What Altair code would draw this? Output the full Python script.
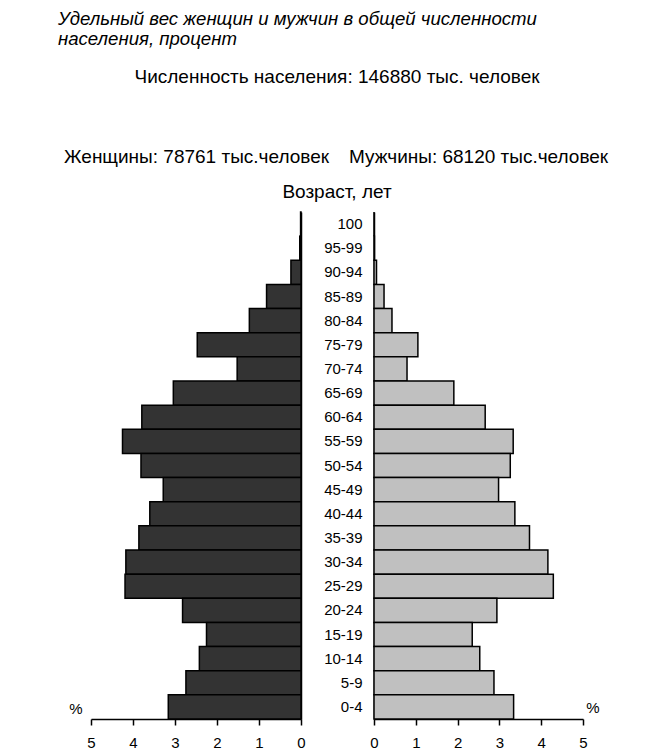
import altair as alt
import pandas as pd

# ---- data ----
ages = ["100", "95-99", "90-94", "85-89", "80-84", "75-79", "70-74", "65-69",
        "60-64", "55-59", "50-54", "45-49", "40-44", "35-39", "30-34", "25-29",
        "20-24", "15-19", "10-14", "5-9", "0-4"]
women = [0.01, 0.03, 0.24, 0.82, 1.23, 2.47, 1.52, 3.04, 3.79, 4.25, 3.81,
         3.28, 3.60, 3.86, 4.17, 4.19, 2.82, 2.25, 2.42, 2.74, 3.16]
men = [0.0, 0.01, 0.06, 0.24, 0.43, 1.05, 0.79, 1.91, 2.66, 3.33, 3.26,
       2.98, 3.37, 3.72, 4.16, 4.29, 2.94, 2.35, 2.53, 2.87, 3.34]
tick_values = [0, 1, 2, 3, 4, 5]

title_line1 = "Удельный вес женщин и мужчин в общей численности"
title_line2 = "населения, процент"
total_text = "Численность населения: 146880 тыс. человек"
women_text = "Женщины: 78761 тыс.человек"
men_text = "Мужчины: 68120 тыс.человек"
age_title = "Возраст, лет"
pct = "%"

FONT = "Liberation Sans"
W, H = 210, 507

df = pd.DataFrame({"age": ages, "women": women, "men": men})


def txt(s, x, y, size=19, align="left", baseline="middle", italic=False):
    return alt.Chart(pd.DataFrame({"t": [s]})).mark_text(
        align=align, baseline=baseline, fontSize=size, font=FONT,
        fontStyle="italic" if italic else "normal", color="black"
    ).encode(text="t:N", x=alt.value(x), y=alt.value(y))


xaxis = dict(values=tick_values, format="d", title=None, grid=False,
             tickSize=6, labelPadding=10, labelFontSize=15, labelFlush=False)

left_bars = alt.Chart(df).mark_bar(
    color="#333333", stroke="black", strokeWidth=1.5
).encode(
    x=alt.X("women:Q", scale=alt.Scale(domain=[0, 5], reverse=True),
            axis=alt.Axis(**xaxis)),
    y=alt.Y("age:N", sort=ages,
            scale=alt.Scale(paddingInner=0, paddingOuter=0),
            axis=alt.Axis(orient="right", labels=False, ticks=False,
                          title=None, grid=False)),
)

# invisible anchor at the page's top-left corner (page margin)
anchor = alt.Chart(pd.DataFrame({"a": [0]})).mark_rule(opacity=0).encode(
    x=alt.value(-83), x2=alt.value(-82), y=alt.value(-204)
)

left = alt.layer(
    anchor,
    left_bars,
    txt(title_line1, -33, -187, size=18.6, baseline="alphabetic", italic=True),
    txt(title_line2, -33, -167, size=18.6, baseline="alphabetic", italic=True),
    txt(total_text, 246, -135, align="center"),
    txt(women_text, -27, -55),
    txt(men_text, 258, -55),
    txt(age_title, 246, -20, align="center"),
    txt(pct, -15, 497, size=15, align="center"),
).properties(width=W, height=H)

right_bars = alt.Chart(df).mark_bar(
    color="#c0c0c0", stroke="black", strokeWidth=1.5
).encode(
    x=alt.X("men:Q", scale=alt.Scale(domain=[0, 5]), axis=alt.Axis(**xaxis)),
    y=alt.Y("age:N", sort=ages,
            scale=alt.Scale(paddingInner=0, paddingOuter=0),
            axis=alt.Axis(orient="left", ticks=False, title=None, grid=False,
                          labelPadding=12, labelFontSize=15)),
)

right = alt.layer(
    right_bars,
    txt(pct, 219, 496, size=15, align="center"),
).properties(width=209, height=H)

chart = alt.hconcat(left, right, spacing=73, bounds="flush").properties(
    padding={"left": 0, "top": 0, "right": 0, "bottom": 0}
).configure_view(stroke=None).configure_axis(
    labelFont=FONT, labelColor="black", domainColor="black", domainWidth=1.5,
    tickColor="black", tickWidth=1.5
).resolve_scale(y="independent")

chart.save("out.html", embed_options={"renderer": "svg", "actions": False})
